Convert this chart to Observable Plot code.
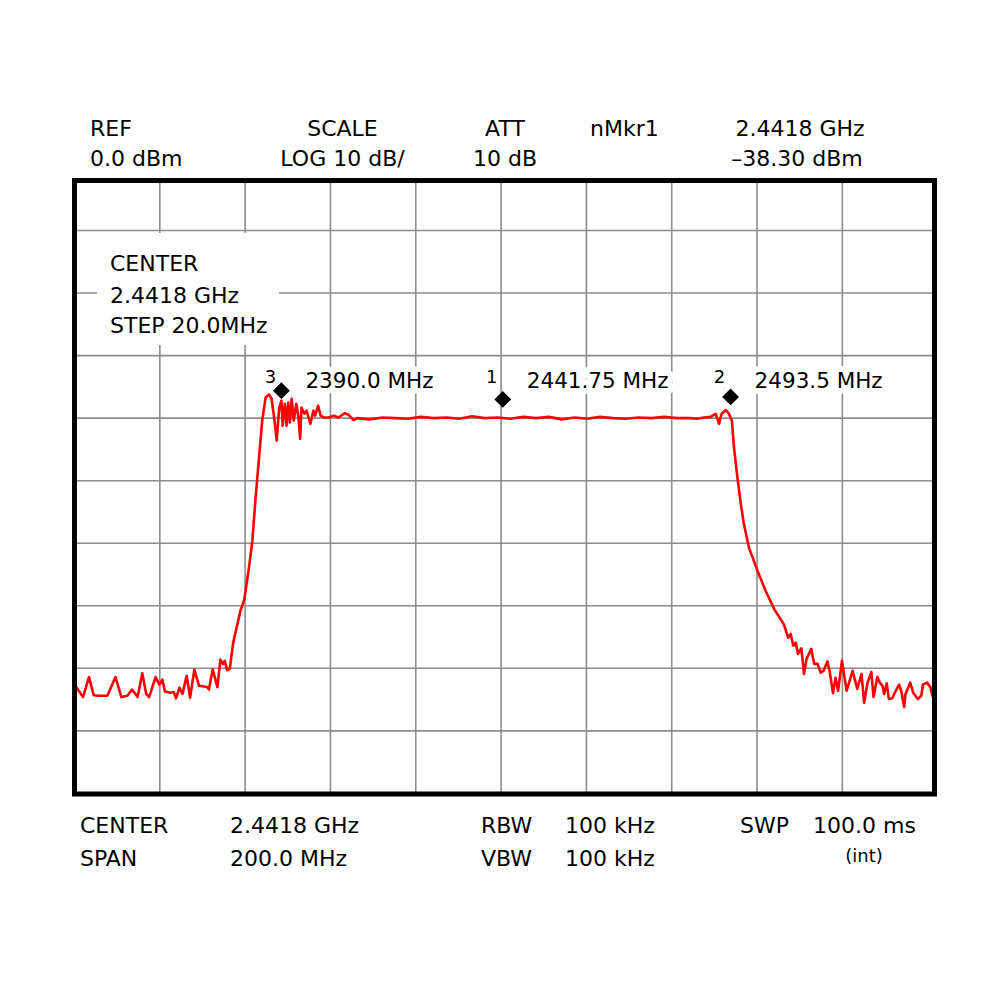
<!DOCTYPE html>
<html>
<head>
<meta charset="utf-8">
<script src="https://cdn.jsdelivr.net/npm/d3@7"></script>
<script src="https://cdn.jsdelivr.net/npm/@observablehq/plot@0.6"></script>
<style>
  html, body { margin: 0; padding: 0; background: #fff; }
  #wrap { position: relative; width: 1000px; height: 1000px; }
  #wrap > svg { position: absolute; left: 0; top: 0; }
  #overlay { pointer-events: none; }
</style>
</head>
<body>
<div id="wrap"></div>
<script>
// ---------- data ----------
const freqMHz = [
  2342.3, 2343.8, 2345.2, 2346.3, 2347.5, 2349.5, 2351.4, 2352.8, 2354.2, 2355.3,
  2356.6, 2357.7, 2358.6, 2359.3, 2360.8, 2361.7, 2362.4, 2363.0, 2364.3, 2365.1,
  2365.6, 2366.4, 2367.1, 2368.1, 2368.9, 2369.9, 2371.0, 2372.9, 2373.3, 2374.2,
  2375.3, 2376.0, 2376.6, 2377.0, 2377.6, 2378.2, 2379.0, 2380.7, 2381.6,
  2382.7, 2383.5, 2384.2, 2385.0, 2385.8, 2386.6, 2387.4, 2388.0, 2388.7, 2389.2,
  2389.8, 2390.3, 2390.6, 2391.1, 2391.5, 2391.9, 2392.3, 2392.7, 2393.2, 2393.8,
  2394.3, 2394.7, 2395.0, 2395.7, 2396.2, 2397.1, 2397.8, 2398.2, 2398.9, 2399.5,
  2400.3, 2401.4, 2402.6, 2403.6, 2405.2, 2406.1, 2407.2, 2408.1,
  2411, 2414, 2417, 2420, 2423, 2426, 2429, 2432, 2435, 2438, 2441, 2444, 2447,
  2450, 2453, 2456, 2459, 2462, 2465, 2468, 2471, 2474, 2477, 2480, 2483,
  2486.2, 2487.8, 2489.4, 2490.9, 2492.1, 2492.9, 2493.5, 2494.5, 2495.2, 2495.9,
  2496.4, 2497.2, 2498.0, 2498.7, 2499.9, 2501.9, 2503.8, 2505.8, 2508.1,
  2509.1, 2509.7, 2510.3, 2510.9, 2511.4, 2512.2, 2512.8, 2513.4, 2514.5, 2515.2,
  2516.0, 2516.7, 2517.4, 2518.3, 2518.8, 2519.6, 2520.2, 2520.8, 2521.7, 2522.8,
  2524.2, 2525.3, 2526.3, 2526.9, 2527.7, 2528.6, 2529.1, 2530.0, 2530.6, 2531.2,
  2531.6, 2532.2, 2532.7, 2533.5, 2534.1, 2535.1, 2535.6, 2536.3, 2536.6, 2537.7,
  2538.4, 2539.5, 2540.3, 2540.7, 2541.7, 2542.5, 2542.9
];
const levelDbm = [
  -81.1, -82.6, -79.4, -82.3, -82.4, -82.4, -79.4, -82.6, -82.4, -81.4,
  -82.6, -78.8, -82.1, -82.6, -79.4, -80.6, -79.8, -81.7, -81.9, -81.8,
  -82.8, -81.1, -82.1, -79.2, -82.7, -78.2, -80.8, -81.0, -81.4, -78.2,
  -81.0, -76.6, -77.3, -76.8, -78.3, -78.1, -73.9, -68.8, -67.0,
  -61.9, -57.6, -51.2, -44.8, -38.4, -34.7, -34.2, -34.9, -38.4, -41.6,
  -36.3, -35.2, -39.2, -35.7, -39.2, -35.5, -38.7, -34.9, -38.4, -35.7,
  -37.9, -41.3, -36.3, -37.3, -36.8, -38.9, -36.8, -37.6, -36.0, -37.6,
  -37.9, -37.9, -37.6, -37.9, -37.2, -37.5, -38.3, -38.0,
  -38.2, -37.9, -38.0, -38.1, -37.8, -38.0, -37.9, -38.1, -37.7, -38.0, -37.9, -38.1, -37.8,
  -38.0, -37.8, -38.2, -37.9, -38.1, -37.8, -38.0, -38.1, -37.9, -38.0, -37.8, -38.0,
  -38.0, -38.1, -37.9, -37.8, -37.3, -38.9, -37.3, -36.7, -37.3, -38.4,
  -42.7, -47.5, -51.7, -54.9, -58.7, -62.4, -65.6, -68.5, -71.0,
  -73.1, -72.5, -74.4, -73.9, -75.7, -74.8, -78.9, -76.5, -74.9, -77.3,
  -77.3, -78.7, -78.4, -76.9, -78.4, -82.0, -79.5, -81.6, -76.8, -81.6,
  -78.4, -81.3, -78.9, -83.5, -80.3, -78.6, -82.6, -79.4, -80.3, -80.8,
  -82.1, -80.4, -82.9, -82.8, -81.9, -80.6, -81.6, -84.2, -82.1, -80.3,
  -81.9, -82.9, -82.4, -80.6, -80.3, -81.1, -82.4
];

// screen: 20 MHz / div horizontally, 10 dB / div vertically
const gridFreqMHz = [2361.8, 2381.8, 2401.8, 2421.8, 2441.8, 2461.8, 2481.8, 2501.8, 2521.8];
const gridLevelDbm = [-8, -18, -28, -38, -48, -58, -68, -78, -88];

const markerNumbers = ["3", "1", "2"];
const markerFreqMHz = [2390.3, 2442.2, 2495.6];
const markerLevelDbm = [-33.6, -35.0, -34.6];
const markerTexts = ["2390.0 MHz", "2441.75 MHz", "2493.5 MHz"];

const headerLine1 = ["REF", "SCALE", "ATT", "nMkr1", "2.4418 GHz"];
const headerLine2 = ["0.0 dBm", "LOG 10 dB/", "10 dB", "", "\u201338.30 dBm"];
const centerBox = ["CENTER", "2.4418 GHz", "STEP 20.0MHz"];
const footerLine1 = ["CENTER", "2.4418 GHz", "RBW", "100 kHz", "SWP", "100.0 ms"];
const footerLine2 = ["SPAN", "200.0 MHz", "VBW", "100 kHz", "", "(int)"];

// ---------- chart ----------
const trace = freqMHz.map((f, i) => ({f, db: levelDbm[i]}));
const markers = markerNumbers.map((n, i) => ({n, f: markerFreqMHz[i], db: markerLevelDbm[i], t: markerTexts[i]}));
const FONT = "DejaVu Sans, sans-serif";
const labelLevel = -32.0, numberLevel = -31.4;

const chart = Plot.plot({
  width: 1000,
  height: 1000,
  marginLeft: 74,
  marginRight: 66,
  marginTop: 180,
  marginBottom: 206.5,
  style: {fontFamily: FONT, background: "transparent"},
  x: {domain: [2341.8, 2543.4], axis: null},
  y: {domain: [-98.1, 0], axis: null},
  marks: [
    Plot.ruleX(gridFreqMHz, {stroke: "#8c8c8c", strokeWidth: 1.6}),
    Plot.ruleY(gridLevelDbm, {stroke: "#8c8c8c", strokeWidth: 1.6}),
    Plot.text(markers, {x: "f", y: () => labelLevel, text: "t", dx: 24, textAnchor: "start",
      fontSize: 21.5, fill: "black", stroke: "white", strokeWidth: 12, strokeLinejoin: "round"}),
    Plot.text(markers, {x: "f", y: () => numberLevel, text: "n", dx: -11,
      fontSize: 18, fill: "black"}),
    Plot.line(trace, {x: "f", y: "db", stroke: "#ff0000", strokeWidth: 2.6, clip: "frame", curve: "linear"}),
    Plot.dot(markers, {x: "f", y: "db", symbol: "diamond2", r: 7.6, fill: "black", stroke: "none"}),
    Plot.frame({stroke: "black", strokeWidth: 5})
  ]
});
document.getElementById("wrap").appendChild(chart);

// ---------- annotations (screen text above, inside, below) ----------
const ov = d3.select("#wrap").append("svg").attr("id", "overlay")
  .attr("width", 1000).attr("height", 1000)
  .style("font-family", FONT).style("fill", "black");

function put(str, x, y, anchor = "start", size = 22) {
  if (!str) return;
  ov.append("text").attr("x", x).attr("y", y).attr("text-anchor", anchor)
    .attr("font-size", size).text(str);
}

// header
const hx = [[90, "start"], [342.5, "middle"], [505, "middle"], [590, "start"], [800, "middle"]];
headerLine1.forEach((s, i) => put(s, hx[i][0], 136, hx[i][1]));
headerLine2.forEach((s, i) => put(s, hx[i][0] - (i === 4 ? 3 : 0), 166, hx[i][1]));

// center box (white background covering the graticule)
ov.append("rect").attr("x", 97).attr("y", 233).attr("width", 182).attr("height", 112).attr("fill", "white");
centerBox.forEach((s, i) => put(s, 110, [271, 303, 333][i]));

// footer
const fx = [80, 230, 481, 565, 740, 813];
footerLine1.forEach((s, i) => put(s, fx[i], 833));
footerLine2.forEach((s, i) => {
  if (i === 5) put(s, 864, 862, "middle", 18);
  else put(s, fx[i], 866);
});
</script>
</body>
</html>
